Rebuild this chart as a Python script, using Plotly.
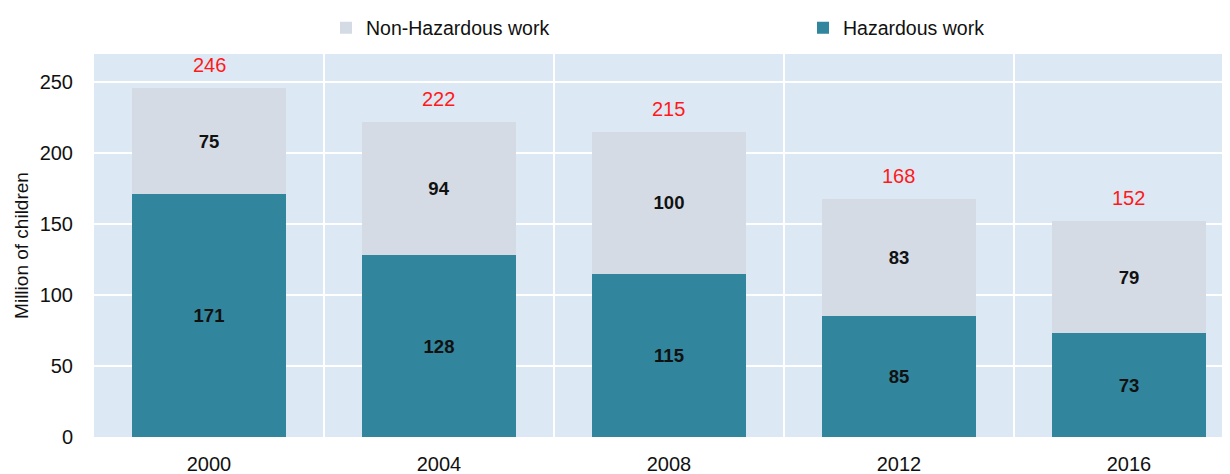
import plotly.graph_objects as go

years = ["2000", "2004", "2008", "2012", "2016"]
hazardous = [171, 128, 115, 85, 73]
non_hazardous = [75, 94, 100, 83, 79]
totals = [h + n for h, n in zip(hazardous, non_hazardous)]
y_ticks = [0, 50, 100, 150, 200, 250]

FONT = "Liberation Sans, Arial, sans-serif"
TEAL = "#31859c"
GREY = "#d4dbe5"
BG = "#dde8f5"

fig = go.Figure()
fig.add_trace(go.Bar(
    x=years, y=hazardous, name="Hazardous work",
    marker=dict(color=TEAL, line=dict(width=0)),
    text=[str(v) for v in hazardous], textposition="inside",
    insidetextanchor="middle", textangle=0, constraintext="none",
    textfont=dict(family=FONT, size=18.5, color="#111111", weight="bold"),
    width=0.67,
))
fig.add_trace(go.Bar(
    x=years, y=non_hazardous, name="Non-Hazardous work",
    marker=dict(color=GREY, line=dict(width=0)),
    text=[str(v) for v in non_hazardous], textposition="inside",
    insidetextanchor="middle", textangle=0, constraintext="none",
    textfont=dict(family=FONT, size=18.5, color="#111111", weight="bold"),
    width=0.67,
))

for i, t in enumerate(totals):
    fig.add_annotation(
        x=i, y=t, xref="x", yref="y", text=str(t), showarrow=False,
        yanchor="bottom", yshift=10,
        font=dict(family=FONT, size=20, color="#ff1a1a"),
    )

fig.update_layout(
    barmode="stack",
    width=1230, height=474,
    margin=dict(l=86, r=0, t=46, b=45, autoexpand=False),
    paper_bgcolor="white",
    plot_bgcolor=BG,
    font=dict(family=FONT, size=20, color="#111111"),
    showlegend=True,
    legend=dict(
        orientation="h", traceorder="reversed",
        x=0.2028, xanchor="left", y=1.068, yanchor="middle",
        entrywidth=432, entrywidthmode="pixels",
        font=dict(family=FONT, size=19.5, color="#111111"),
        bgcolor="rgba(0,0,0,0)",
    ),
)
fig.update_xaxes(
    type="category", range=[-0.5, 4.474], automargin=False,
    tickson="boundaries", showgrid=True, gridcolor="white", gridwidth=1.5,
    ticks="", ticklabelstandoff=13, zeroline=False, showline=False,
    tickfont=dict(family=FONT, size=20, color="#111111"),
)
fig.update_yaxes(
    range=[0, 270], tickvals=y_ticks, showgrid=True, gridcolor="white",
    gridwidth=1.5, zeroline=False, showline=False, ticks="",
    ticklabelstandoff=20, automargin=False,
    tickfont=dict(family=FONT, size=20, color="#111111"),
    title=dict(text="Million of children", standoff=5,
               font=dict(family=FONT, size=19, color="#111111")),
)

fig.write_html("out.html")
